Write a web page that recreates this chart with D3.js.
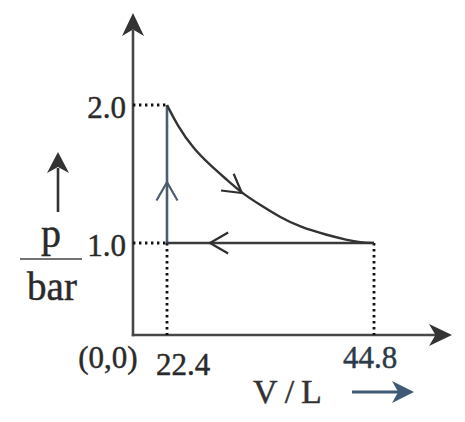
<!DOCTYPE html>
<html>
<head>
<meta charset="utf-8">
<script src="https://cdn.jsdelivr.net/npm/d3@7"></script>
<style>
  html, body { margin: 0; padding: 0; background: #fff; }
  svg { display: block; }
</style>
</head>
<body>
<svg id="chart" width="465" height="422"></svg>
<script>
// ---- data ----
const xTickValues = [22.4, 44.8];
const xTickLabels = ["22.4", "44.8"];
const yTickValues = [1.0, 2.0];
const yTickLabels = ["1.0", "2.0"];
const originLabel = "(0,0)";
const xAxisTitle = "V/L";
const yAxisTitleTop = "p";
const yAxisTitleBottom = "bar";

// isothermal expansion curve
const curveV = [22.4, 23.5, 25.2, 27.05, 28.9, 30.5, 32.5, 34.6, 36.8, 39.7, 41.9, 43.3, 44.8];
const curveP = [2.0, 1.855, 1.688, 1.565, 1.457, 1.362, 1.275, 1.188, 1.116, 1.058, 1.022, 1.004, 1.0];

// straight legs of the cycle
const isochoreV = [22.4, 22.4];
const isochoreP = [1.0, 2.0];
const isobarV = [44.8, 22.4];
const isobarP = [1.0, 1.0];

// direction marks: position (V, p) and heading on screen (degrees)
const arrowV = [22.4, 27.05, 30.5];
const arrowP = [1.44, 1.0, 1.362];
const arrowAngle = [-90, 180, 37];

// ---- layout ----
const svg = d3.select("#chart");
const x = d3.scaleLinear().domain([22.4, 44.8]).range([167, 374]);
const y = d3.scaleLinear().domain([1.0, 2.0]).range([243, 105]);
const axisX0 = 133, axisY0 = 335;
const axisColor = "#474747";
const ink = "#2a2a2a";
const blue = "#3f5a74";
const font = "'Liberation Serif', 'Times New Roman', serif";

// axes
svg.append("line").attr("x1", axisX0).attr("y1", axisY0 + 1.2).attr("x2", axisX0).attr("y2", 30)
  .attr("stroke", axisColor).attr("stroke-width", 2.6);
svg.append("line").attr("x1", axisX0 - 1.2).attr("y1", axisY0).attr("x2", 436).attr("y2", axisY0)
  .attr("stroke", axisColor).attr("stroke-width", 2.6);

function barbHead(tipX, tipY, angleDeg, len, half, color) {
  const a = angleDeg * Math.PI / 180;
  const ux = Math.cos(a), uy = Math.sin(a);
  const px = -uy, py = ux;
  const bx = tipX - ux * len, by = tipY - uy * len;
  const nx = tipX - ux * len * 0.72, ny = tipY - uy * len * 0.72;
  svg.append("path")
    .attr("d", `M${tipX},${tipY} L${bx + px * half},${by + py * half} L${nx},${ny} L${bx - px * half},${by - py * half} Z`)
    .attr("fill", color);
}
barbHead(axisX0, 13, -90, 23, 11, "#333");
barbHead(452, axisY0, 0, 23, 11, "#333");

// dotted guide lines
const dotted = [
  [[axisX0, y(2.0)], [x(22.4), y(2.0)]],
  [[axisX0, y(1.0)], [x(22.4), y(1.0)]],
  [[x(22.4), y(1.0)], [x(22.4), axisY0]],
  [[x(44.8), y(1.0)], [x(44.8), axisY0]]
];
dotted.forEach(seg => {
  svg.append("line")
    .attr("x1", seg[0][0]).attr("y1", seg[0][1]).attr("x2", seg[1][0]).attr("y2", seg[1][1])
    .attr("stroke", "#111").attr("stroke-width", 2.8)
    .attr("stroke-dasharray", "2.4,3.6");
});

// cycle legs
const line = d3.line().x(d => x(d[0])).y(d => y(d[1]));
svg.append("path").datum(d3.zip(isochoreV, isochoreP))
  .attr("d", line).attr("fill", "none").attr("stroke", "#4c5d70").attr("stroke-width", 2.6);
svg.append("path").datum(d3.zip(isobarV, isobarP))
  .attr("d", line).attr("fill", "none").attr("stroke", "#3a3a3a").attr("stroke-width", 2.6);
const curveLine = d3.line().x(d => x(d[0])).y(d => y(d[1])).curve(d3.curveBasis);
svg.append("path").datum(d3.zip(curveV, curveP))
  .attr("d", curveLine).attr("fill", "none").attr("stroke", "#333").attr("stroke-width", 2.4);

// direction chevrons
arrowV.forEach((v, i) => {
  const tx = x(v), ty = y(arrowP[i]);
  const a = arrowAngle[i] * Math.PI / 180;
  const len = 21, spread = 30 * Math.PI / 180;
  const p1 = [tx - len * Math.cos(a - spread), ty - len * Math.sin(a - spread)];
  const p2 = [tx - len * Math.cos(a + spread), ty - len * Math.sin(a + spread)];
  svg.append("path")
    .attr("d", `M${p1[0]},${p1[1]} L${tx},${ty} L${p2[0]},${p2[1]}`)
    .attr("fill", "none").attr("stroke", i === 0 ? "#4c5d70" : "#2e2e2e")
    .attr("stroke-width", 2.2).attr("stroke-linejoin", "miter");
});

// text helper
function label(tx, ty, str, size, anchor, color, extra) {
  const t = svg.append("text").attr("x", tx).attr("y", ty)
    .attr("text-anchor", anchor).attr("font-family", font).attr("font-size", size)
    .attr("fill", color).attr("stroke", color).attr("stroke-width", 0.45)
    .text(str);
  if (extra) extra(t);
  return t;
}

// tick labels
yTickValues.forEach((v, i) => label(126, y(v) + 12.5, yTickLabels[i], 31, "end", ink));
const xLabelOffset = [16, -4];
const xLabelBase = [375, 368];
xTickValues.forEach((v, i) =>
  label(x(v) + xLabelOffset[i], xLabelBase[i], xTickLabels[i], 31, "middle", i === 1 ? "#2c3a48" : ink));
label(108, 368, originLabel, 31, "middle", ink);

// x axis title with arrow
label(291, 403, xAxisTitle, 34, "middle", "#333", t => t.attr("letter-spacing", 7));
svg.append("line").attr("x1", 352).attr("y1", 392).attr("x2", 398).attr("y2", 392)
  .attr("stroke", blue).attr("stroke-width", 2.8);
barbHead(414, 392, 0, 22, 11, blue);

// y axis title: fraction p / bar with up arrow
svg.append("line").attr("x1", 58).attr("y1", 212).attr("x2", 58).attr("y2", 168)
  .attr("stroke", "#333").attr("stroke-width", 2.6);
barbHead(58, 152, -90, 21, 11, "#333");
label(51, 247, yAxisTitleTop, 40, "middle", ink);
svg.append("line").attr("x1", 20).attr("y1", 259).attr("x2", 82).attr("y2", 259)
  .attr("stroke", "#444").attr("stroke-width", 1.6);
label(52, 300, yAxisTitleBottom, 39, "middle", ink);
</script>
</body>
</html>
